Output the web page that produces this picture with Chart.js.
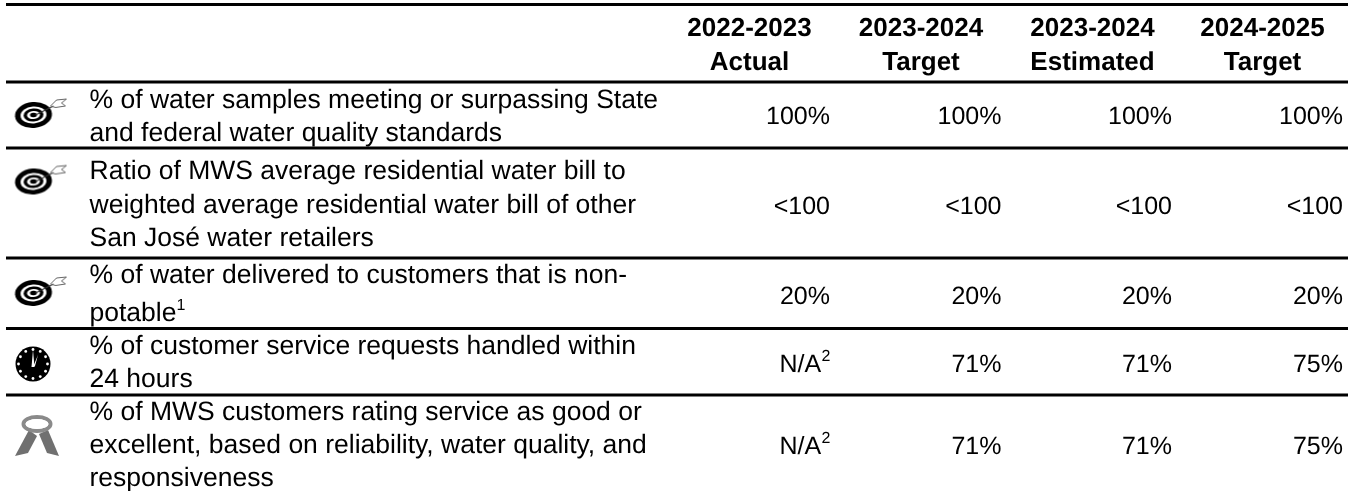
<!DOCTYPE html>
<html>
<head>
<meta charset="utf-8">
<title>Performance measures</title>
<script src="https://cdn.jsdelivr.net/npm/chart.js@4"></script>
<style>
  html, body { margin: 0; padding: 0; background: #fff; }
  #wrap { width: 1360px; height: 491px; }
</style>
</head>
<body>
<div id="wrap"><canvas id="myChart" width="1360" height="491"></canvas></div>
<script>
// table content
const headerYears = ["2022-2023", "2023-2024", "2023-2024", "2024-2025"];
const headerTypes = ["Actual", "Target", "Estimated", "Target"];
const measures = [
  ["% of water samples meeting or surpassing State", "and federal water quality standards"],
  ["Ratio of MWS average residential water bill to", "weighted average residential water bill of other", "San José water retailers"],
  ["% of water delivered to customers that is non-", "potable"],
  ["% of customer service requests handled within", "24 hours"],
  ["% of MWS customers rating service as good or", "excellent, based on reliability, water quality, and", "responsiveness"],
];
const measureNotes = ["", "", "1", "", ""];
const actual2223 = ["100%", "<100", "20%", "N/A", "N/A"];
const actualNotes = ["", "", "", "2", "2"];
const target2324 = ["100%", "<100", "20%", "71%", "71%"];
const estimated2324 = ["100%", "<100", "20%", "71%", "71%"];
const target2425 = ["100%", "<100", "20%", "75%", "75%"];
const icons = ["target", "target", "target", "clock", "ribbon"];

// layout, in picture units
const ruleY = [4.5, 82, 148, 258, 328.5, 395];
const ruleFrom = 6, ruleTo = 1348;
const textX = 89.5;
const headerCenters = [749.5, 921, 1092.5, 1262.5];
const valueRights = [830, 1001.5, 1172, 1343];
const headerBaselines = [36, 70];
const lineBaselines = [[108, 140.5], [179, 213, 246], [283, 321], [354, 387], [420, 453, 486]];
const valueBaselines = [124, 213.5, 303.5, 372, 454];
const iconX = { target: 33.5, clock: 33, ribbon: 37 };
const iconY = [115, 181.5, 293, 364, 435];
const headerFont = 26;
const measureFont = 26.5;
const valueFont = 25;
const noteFont = 16;
const fontFamily = '"Liberation Sans", Arial, sans-serif';
const ink = "#000";

function makeIcon(draw) {
  const c = document.createElement("canvas");
  c.width = 100;
  c.height = 70;
  const g = c.getContext("2d");
  g.translate(50, 35);
  draw(g);
  return c;
}

function ell(g, rx, ry, col) {
  g.fillStyle = col;
  g.beginPath();
  g.ellipse(0, 0, rx, ry, -0.08, 0, Math.PI * 2);
  g.fill();
}

const targetIcon = makeIcon((g) => {
  ell(g, 18.5, 13, "#000");
  ell(g, 13, 8.5, "#fff");
  ell(g, 10, 6.5, "#000");
  ell(g, 6.5, 4, "#fff");
  ell(g, 3.5, 2.2, "#000");
  g.strokeStyle = "#333";
  g.lineWidth = 1.2;
  g.beginPath();
  g.moveTo(2, 0);
  g.lineTo(20, -9);
  g.stroke();
  g.strokeStyle = "#666";
  g.lineWidth = 1;
  g.beginPath();
  g.moveTo(17, -9);
  g.lineTo(23, -15);
  g.lineTo(33, -16);
  g.lineTo(28, -12);
  g.lineTo(32, -9);
  g.lineTo(22, -7.5);
  g.closePath();
  g.stroke();
});

const clockIcon = makeIcon((g) => {
  g.fillStyle = "#000";
  g.beginPath();
  g.arc(0, 0, 17.5, 0, Math.PI * 2);
  g.fill();
  g.fillStyle = "#fff";
  for (let i = 0; i < 12; i++) {
    const a = (i * Math.PI) / 6;
    g.beginPath();
    g.arc(Math.cos(a) * 14.5, Math.sin(a) * 14.5, 1.4, 0, Math.PI * 2);
    g.fill();
  }
  g.beginPath();
  g.moveTo(-1.5, 3);
  g.lineTo(0, -14);
  g.lineTo(1.5, 3);
  g.closePath();
  g.fill();
  g.beginPath();
  g.moveTo(0, 3);
  g.lineTo(5, -9);
  g.lineTo(2, 2);
  g.closePath();
  g.fill();
});

const ribbonIcon = makeIcon((g) => {
  g.fillStyle = "#707070";
  g.beginPath();
  g.moveTo(-8, -5);
  g.lineTo(-22, 21);
  g.lineTo(-9, 18);
  g.lineTo(0, 1);
  g.closePath();
  g.fill();
  g.beginPath();
  g.moveTo(2, -1);
  g.lineTo(10, 18);
  g.lineTo(22, 21);
  g.lineTo(11, -5);
  g.closePath();
  g.fill();
  g.strokeStyle = "#8a8a8a";
  g.lineWidth = 4;
  g.beginPath();
  g.ellipse(0, -11, 13.5, 7, 0, 0, Math.PI * 2);
  g.stroke();
  g.fillStyle = "#fff";
  g.beginPath();
  g.ellipse(0, -11, 11.5, 5, 0, 0, Math.PI * 2);
  g.fill();
});

const iconImages = { target: targetIcon, clock: clockIcon, ribbon: ribbonIcon };

// one dataset per rule, drawn through the scales
const ruleDatasets = ruleY.map((y) => ({
  type: "line",
  data: [{ x: ruleFrom, y: y }, { x: ruleTo, y: y }],
  borderColor: "#000",
  borderWidth: 3,
  pointRadius: 0,
  fill: false,
}));

const iconDataset = {
  type: "scatter",
  data: icons.map((name, i) => ({ x: iconX[name], y: iconY[i] })),
  pointStyle: icons.map((name) => iconImages[name]),
  pointRadius: 1,
};

const tableText = {
  id: "tableText",
  afterDatasetsDraw(chart) {
    const ctx = chart.ctx;
    const sx = chart.scales.x;
    const sy = chart.scales.y;
    const put = (str, x, y, align) => {
      ctx.textAlign = align;
      ctx.fillText(str, sx.getPixelForValue(x), sy.getPixelForValue(y));
    };
    ctx.save();
    ctx.fillStyle = ink;
    ctx.textBaseline = "alphabetic";
    ctx.textRendering = "geometricPrecision";

    ctx.font = "bold " + headerFont + "px " + fontFamily;
    headerYears.forEach((year, i) => {
      put(year, headerCenters[i], headerBaselines[0], "center");
      put(headerTypes[i], headerCenters[i], headerBaselines[1], "center");
    });

    const small = noteFont + "px " + fontFamily;
    measures.forEach((lines, r) => {
      ctx.font = measureFont + "px " + fontFamily;
      lines.forEach((line, l) => put(line, textX, lineBaselines[r][l], "left"));
      if (measureNotes[r]) {
        const last = lines.length - 1;
        const w = ctx.measureText(lines[last]).width;
        ctx.font = small;
        put(measureNotes[r], textX + w, lineBaselines[r][last] - 11, "left");
      }
    });

    [actual2223, target2324, estimated2324, target2425].forEach((col, c) => {
      col.forEach((val, r) => {
        const note = c === 0 ? actualNotes[r] : "";
        let right = valueRights[c];
        if (note) {
          ctx.font = small;
          put(note, right + 0.5, valueBaselines[r] - 11, "right");
          right -= ctx.measureText(note).width;
        }
        ctx.font = valueFont + "px " + fontFamily;
        put(val, right, valueBaselines[r], "right");
      });
    });
    ctx.restore();
  },
};

const config = {
  type: "scatter",
  data: { datasets: [...ruleDatasets, iconDataset] },
  options: {
    responsive: false,
    animation: false,
    layout: { padding: 0, autoPadding: false },
    plugins: { legend: { display: false }, tooltip: { enabled: false } },
    scales: {
      x: { type: "linear", min: 0, max: 1360, display: false },
      y: { type: "linear", min: 0, max: 491, reverse: true, display: false },
    },
  },
  plugins: [tableText],
};
const myChart = new Chart(document.getElementById("myChart"), config);
</script>
</body>
</html>
